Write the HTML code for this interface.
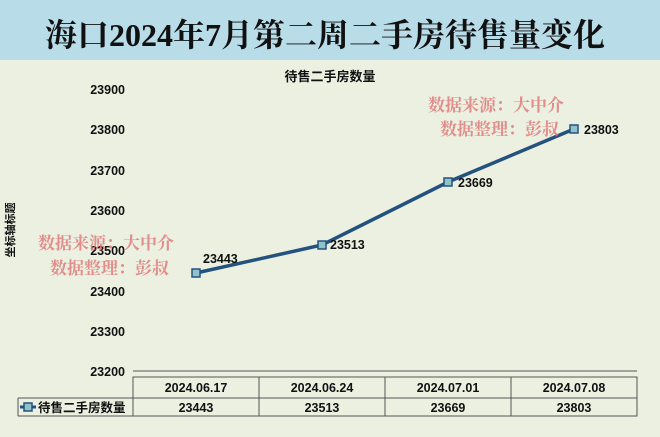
<!DOCTYPE html>
<html><head><meta charset="utf-8"><style>
html,body{margin:0;padding:0;width:660px;height:437px;overflow:hidden;background:#ebf0e1}
svg{display:block}
text{font-family:"Liberation Sans","Noto Sans CJK SC",sans-serif}
.t{font-size:12.5px;font-weight:bold;fill:#111}
.w{font-family:"Liberation Serif","Noto Serif CJK SC",serif;font-size:17px;font-weight:bold;fill:#e07575;opacity:0.8}
</style></head><body>
<svg width="660" height="437" viewBox="0 0 660 437">
<rect x="0" y="0" width="660" height="60" fill="#b9dce9"/>
<text x="325" y="46" text-anchor="middle" style="font-family:'Liberation Serif','Noto Serif CJK SC',serif;font-size:32px;font-weight:bold;fill:#111">海口2024年7月第二周二手房待售量变化</text>
<text x="330" y="81" text-anchor="middle" class="t" style="font-size:13px">待售二手房数量</text>
<text x="14" y="230" class="t" transform="rotate(-90 14 230)" text-anchor="middle" style="font-size:11px">坐标轴标题</text>
<g class="t" text-anchor="end">
<text x="125" y="94">23900</text><text x="125" y="134">23800</text><text x="125" y="175">23700</text>
<text x="125" y="215">23600</text><text x="125" y="255">23500</text><text x="125" y="296">23400</text>
<text x="125" y="336">23300</text><text x="125" y="376">23200</text>
</g>
<g stroke="#555" stroke-width="1" fill="none">
<line x1="133" y1="371" x2="637" y2="371"/>
<rect x="133" y="377" width="504" height="39"/>
<line x1="18" y1="398" x2="637" y2="398"/>
<line x1="18" y1="398" x2="18" y2="416"/>
<line x1="18" y1="416" x2="133" y2="416"/>
<line x1="259" y1="377" x2="259" y2="416"/>
<line x1="385" y1="377" x2="385" y2="416"/>
<line x1="511" y1="377" x2="511" y2="416"/>
</g>
<g class="t" text-anchor="middle">
<text x="196" y="392">2024.06.17</text><text x="322" y="392">2024.06.24</text>
<text x="448" y="392">2024.07.01</text><text x="574" y="392">2024.07.08</text>
<text x="196" y="412">23443</text><text x="322" y="412">23513</text>
<text x="448" y="412">23669</text><text x="574" y="412">23803</text>
</g>
<line x1="20" y1="407" x2="36" y2="407" stroke="#24527f" stroke-width="3"/>
<rect x="24" y="403" width="8" height="8" fill="#8fc3c9" stroke="#24527f" stroke-width="1.5"/>
<text x="38" y="412" class="t">待售二手房数量</text>
<polyline points="196,273 322,245 448,182 574,129" fill="none" stroke="#24527f" stroke-width="3.5"/>
<g fill="#8fc3c9" stroke="#24527f" stroke-width="1.5">
<rect x="192" y="269" width="8" height="8"/><rect x="318" y="241" width="8" height="8"/>
<rect x="444" y="178" width="8" height="8"/><rect x="570" y="125" width="8" height="8"/>
</g>
<g class="t">
<text x="203" y="263">23443</text><text x="330" y="249">23513</text>
<text x="458" y="187">23669</text><text x="584" y="134">23803</text>
</g>
<text x="38" y="249" class="w">数据来源：大中介</text>
<text x="50" y="274" class="w">数据整理：彭叔</text>
<text x="428" y="111" class="w">数据来源：大中介</text>
<text x="440" y="135" class="w">数据整理：彭叔</text>
</svg>
</body></html>
